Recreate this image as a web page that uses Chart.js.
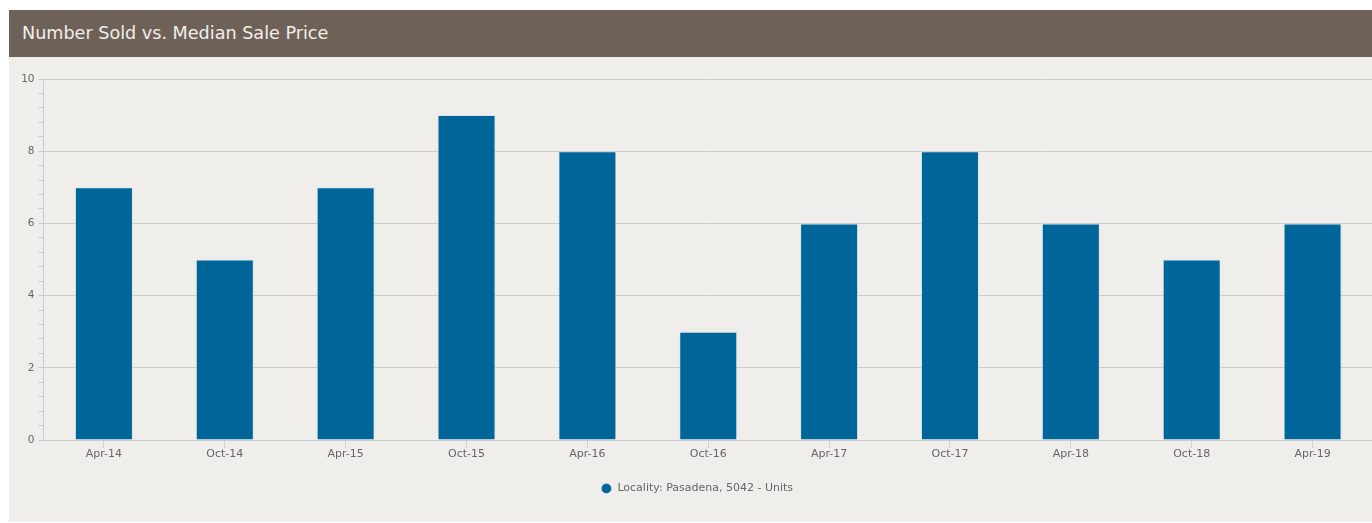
<!DOCTYPE html>
<html><head><meta charset="utf-8">
<script src="https://cdn.jsdelivr.net/npm/chart.js@4/dist/chart.umd.min.js"></script>
<style>
html,body{margin:0;padding:0;background:#fff;overflow:hidden;width:1372px;height:523px;}
#panel{position:absolute;left:9px;top:10px;width:1370px;height:512px;background:#f0eeea;}
#hdr{height:47px;background:#6e6258;color:#f1eeea;font-family:"DejaVu Sans",sans-serif;font-size:17.6px;line-height:47px;padding-left:13px;box-sizing:border-box;}
#wrap{position:absolute;left:0;top:47px;width:1370px;height:465px;}
</style></head>
<body>
<div id="panel"><div id="hdr">Number Sold vs. Median Sale Price</div>
<div id="wrap"><canvas id="c"></canvas></div></div>
<script>
const categories = ["Apr-14","Oct-14","Apr-15","Oct-15","Apr-16","Oct-16","Apr-17","Oct-17","Apr-18","Oct-18","Apr-19"];
const unitsSold = [7,5,7,9,8,3,6,8,6,5,6];
const seriesLabel = "Locality: Pasadena, 5042 - Units";
const yMin = 0, yMax = 10, yMinorStep = 0.4, yMajorStep = 2;

const isMajor = v => Math.abs(v/yMajorStep - Math.round(v/yMajorStep)) < 1e-6;
new Chart(document.getElementById('c'), {
  type: 'bar',
  data: { labels: categories, datasets: [{ label: seriesLabel, data: unitsSold, backgroundColor: '#006699', borderColor: 'rgba(200,225,240,0.6)', borderWidth: 1, borderSkipped: 'bottom', barPercentage: 0.96, categoryPercentage: 0.5 }] },
  options: {
    responsive: true, maintainAspectRatio: false, animation: false,
    layout: { padding: { top: 22, right: 6, bottom: 18, left: 12 } },
    plugins: {
      tooltip: { enabled: false },
      legend: { position: 'bottom', labels: { usePointStyle: true, pointStyle: 'circle', boxWidth: 11, boxHeight: 7.2, padding: 10, color: '#666', font: { family: 'DejaVu Sans', size: 11 } } }
    },
    scales: {
      x: {
        grid: { offset: false, drawOnChartArea: false, tickLength: 8, tickColor: '#c9d3da' },
        border: { color: '#cccccc', width: 1 },
        ticks: { color: '#666', font: { family: 'DejaVu Sans', size: 11 }, padding: 0, maxRotation: 0 },
        afterFit: s => { s.height = 33; }
      },
      y: {
        min: yMin, max: yMax,
        grid: { color: ctx => isMajor(ctx.tick.value) ? '#cccccc' : 'rgba(0,0,0,0)', tickColor: '#cccccc', tickLength: 5 },
        border: { color: '#cccccc', width: 1 },
        ticks: { stepSize: yMinorStep, autoSkip: false, color: '#666', font: { family: 'DejaVu Sans', size: 10.5 }, padding: 4,
          callback: v => isMajor(v) ? String(Math.round(v)) : '' },
        afterFit: s => { s.width = 22.5; }
      }
    }
  }
});
</script>
</body></html>
